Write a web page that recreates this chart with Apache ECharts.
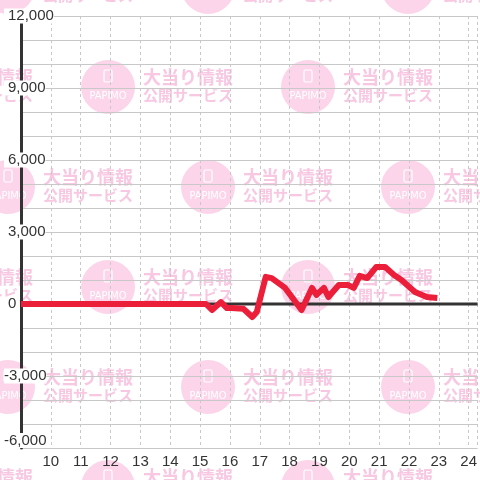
<!DOCTYPE html>
<html><head><meta charset="utf-8">
<script src="https://cdn.jsdelivr.net/npm/echarts@6/dist/echarts.min.js"></script>
<style>html,body{margin:0;padding:0;background:#fff}#c{width:480px;height:480px}</style>
</head><body><div id="c"></div>
<script>
// data (hour of day, balance)
const hours  = [9, 15.2, 15.4, 15.7, 15.9, 16.05, 16.45, 16.75, 16.9, 17.2, 17.4, 17.85, 18.4, 18.75, 18.9, 19.15, 19.3, 19.65, 19.95, 20.15, 20.35, 20.6, 20.9, 21.2, 21.5, 21.75, 22.2, 22.6, 22.95];
const values = [0, 0, -250, 80, -170, -170, -200, -540, -330, 1130, 1080, 670, -250, 670, 380, 670, 290, 790, 790, 670, 1170, 1080, 1540, 1540, 1210, 1000, 500, 290, 250];
const xTickLabels = [10, 11, 12, 13, 14, 15, 16, 17, 18, 19, 20, 21, 22, 23, 24];
const yTickLabels = [-6000, -3000, 0, 3000, 6000, 9000, 12000];
const wmLine1 = '大当り情報';
const wmLine2 = '公開サービス';
const wmBrand = 'PAPIMO';

const chart = echarts.init(document.getElementById('c'), null, {renderer: 'canvas'});

// watermark tiles (decorative background)
const wm = [];
const rowsY = [-13, 87, 187, 287, 387, 487];
rowsY.forEach((cy, i) => {
  const xs = i % 2 === 0 ? [-192, 8, 208, 408] : [-92, 108, 308, 508];
  xs.forEach(cx => {
    wm.push({type: 'circle', z: -100, silent: true, shape: {cx: cx, cy: cy, r: 27}, style: {fill: '#fcd5eb'}});
    wm.push({type: 'rect', z: -99, silent: true, shape: {x: cx - 4, y: cy - 17, width: 8, height: 12, r: 1.5}, style: {fill: 'none', stroke: '#fff', lineWidth: 1.2}});
    wm.push({type: 'text', z: -99, silent: true, x: cx, y: cy + 9, style: {text: wmBrand, fill: '#fff', font: '11px "Liberation Sans Narrow", "DejaVu Sans Condensed", sans-serif', align: 'center', verticalAlign: 'middle'}});
    wm.push({type: 'text', z: -99, silent: true, x: cx + 35, y: cy - 10, style: {text: wmLine1, fill: '#f8c8e3', font: 'bold 18px "Noto Sans CJK JP"', align: 'left', verticalAlign: 'middle'}});
    wm.push({type: 'text', z: -99, silent: true, x: cx + 35, y: cy + 8, style: {text: wmLine2, fill: '#f8c8e3', font: 'bold 15px "Noto Sans CJK JP"', align: 'left', verticalAlign: 'middle'}});
  });
});

const xMin = 9, xMax = 24.3;
chart.setOption({
  animation: false,
  backgroundColor: '#fff',
  graphic: {elements: wm},
  grid: {left: 21, right: 0, top: 16, bottom: 32, containLabel: false},
  xAxis: {
    type: 'value', min: xMin, max: xMax, interval: 1,
    axisLine: {show: false}, axisTick: {show: false},
    axisLabel: {
      margin: 6, color: '#333', fontSize: 15, fontFamily: 'Liberation Sans',
      showMinLabel: false, showMaxLabel: false,
      formatter: v => xTickLabels.indexOf(v) >= 0 ? String(v) : ''
    },
    splitLine: {show: true, lineStyle: {color: '#c8c8c8', type: [3, 3], width: 1}}
  },
  yAxis: {
    type: 'value', min: -6000, max: 12000, interval: 3000,
    axisLine: {show: true, lineStyle: {color: '#333', width: 3}},
    axisTick: {show: false},
    axisLabel: {
      inside: false, align: 'left', margin: 17, color: '#333', fontSize: 15, fontFamily: 'Liberation Sans',
      backgroundColor: '#fff', padding: [0, 0, 0, 0],
      verticalAlignMinLabel: 'bottom',
      formatter: v => yTickLabels.indexOf(v) < 0 ? '' :
        (v < 0 ? '{n|' + v.toLocaleString('en-US') + '}' : '{p|' + v.toLocaleString('en-US') + '}'),
      rich: {
        n: {fontSize: 15, color: '#333', fontFamily: 'Liberation Sans'},
        p: {fontSize: 15, color: '#333', fontFamily: 'Liberation Sans', padding: [0, 0, 0, 4]}
      }
    },
    splitLine: {show: true, lineStyle: {color: '#c8c8c8', width: 1}},
    minorTick: {show: false, splitNumber: 3},
    minorSplitLine: {show: true, lineStyle: {color: '#c8c8c8', width: 1}}
  },
  series: [
    {
      type: 'line', silent: true, z: 1, symbol: 'none',
      data: [[xMin, 0], [xMax, 0]],
      lineStyle: {color: '#333', width: 3}
    },
    {
      type: 'line', silent: true, z: 3, symbol: 'none',
      data: hours.map((h, i) => [h, values[i]]),
      lineStyle: {color: '#ec1f3a', width: 6, join: 'round'}
    }
  ]
});
</script></body></html>
